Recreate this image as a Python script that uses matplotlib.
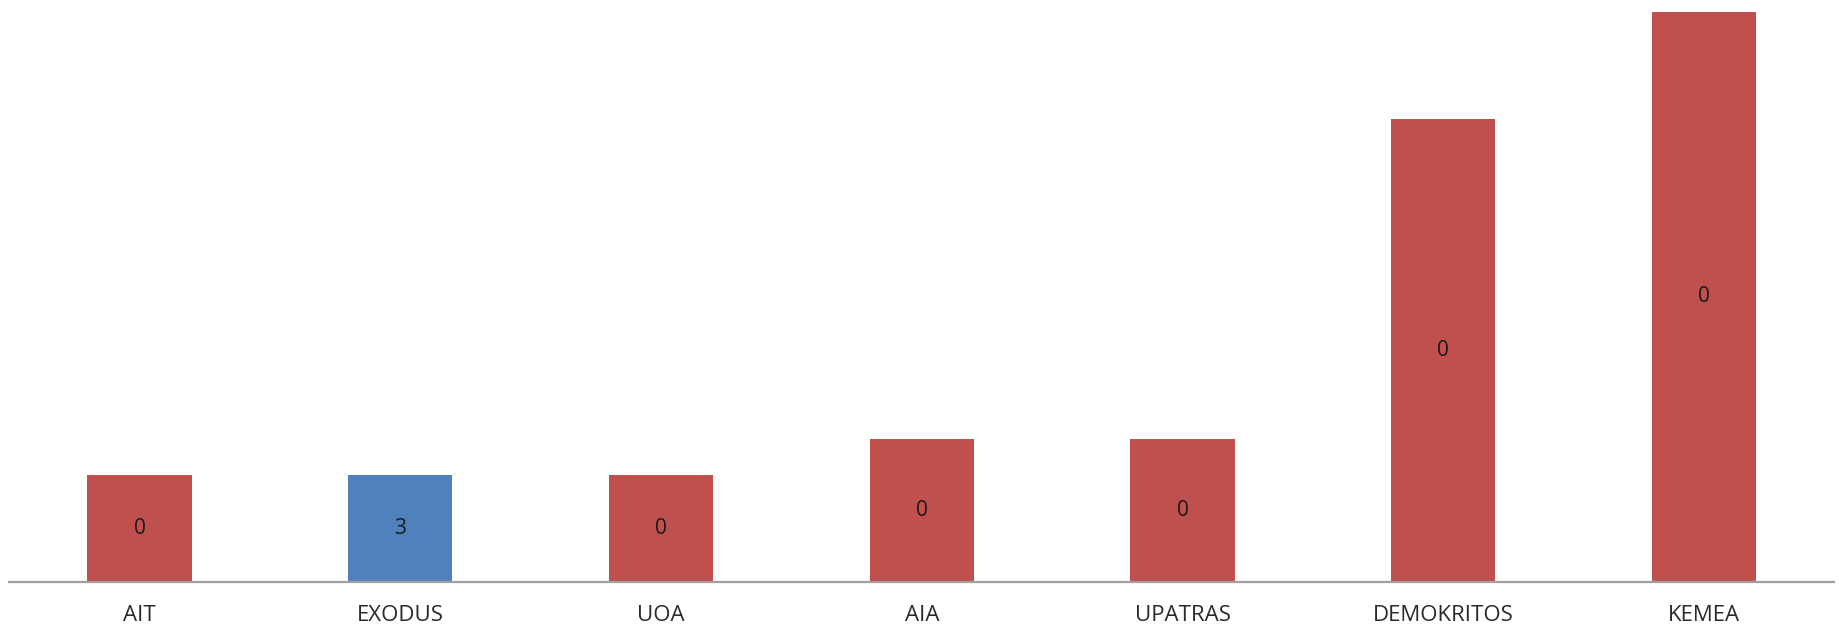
import matplotlib
matplotlib.use("Agg")
import matplotlib.pyplot as plt

# ── data ──────────────────────────────────────────────────────────────────────
partners = ["AIT", "EXODUS", "UOA", "AIA", "UPATRAS", "DEMOKRITOS", "KEMEA"]
heights = [3, 3, 3, 4, 4, 13, 16]
bar_labels = ["0", "3", "0", "0", "0", "0", "0"]
highlight = ["EXODUS"]

C_RED = "#C0504D"
C_BLUE = "#4F81BD"

plt.rcParams["font.family"] = ["Open Sans", "DejaVu Sans"]

fig = plt.figure(figsize=(18.39, 6.27), dpi=100)
ax = fig.add_axes([0.005, 0.0722, 0.9925, 0.9091])

x = range(len(partners))
colors = [C_BLUE if p in highlight else C_RED for p in partners]
bars = ax.bar(x, heights, width=0.4, color=colors, edgecolor="none", zorder=2)

for bar, lbl in zip(bars, bar_labels):
    ax.text(bar.get_x() + bar.get_width() / 2, bar.get_height() / 2, lbl,
            ha="center", va="center", fontsize=15, color="#1a1a1a", zorder=3)

ax.set_xlim(-0.5, len(partners) - 0.5)
ax.set_ylim(0, 16)
ax.set_xticks(list(x))
ax.set_xticklabels(partners, fontsize=16, color="#2a2a2a")
ax.tick_params(axis="x", length=0, pad=17)
ax.set_yticks([])

for side in ["top", "right", "left"]:
    ax.spines[side].set_visible(False)
ax.spines["bottom"].set_color("#a0a0a0")
ax.spines["bottom"].set_linewidth(1.6)
ax.spines["bottom"].set_zorder(3)

fig.savefig("out.png", dpi=100)
